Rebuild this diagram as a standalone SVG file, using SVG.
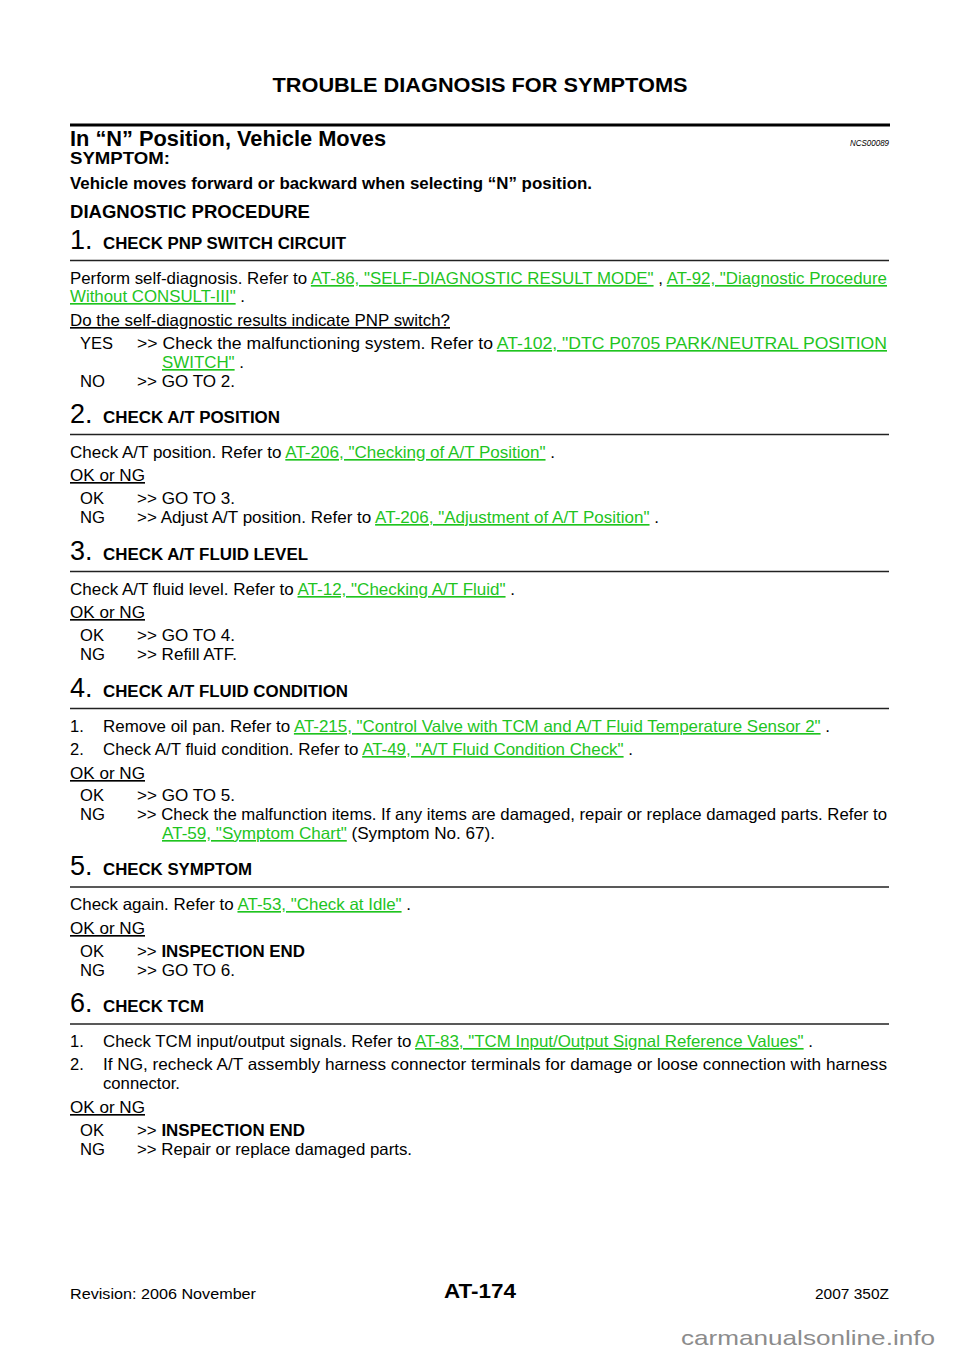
<svg xmlns="http://www.w3.org/2000/svg" width="960" height="1358" viewBox="0 0 960 1358">
<style>
text{font-family:"Liberation Sans",Arial,sans-serif;fill:#000}
.b{font-weight:bold}
.t{font-size:16.5px}
.n{font-size:27px}
.h{font-size:16px;font-weight:bold}
.l{fill:#1fc41f;text-decoration:underline}
.u{text-decoration:underline}
.rule{stroke:#222;stroke-width:1.3}
</style>
<rect width="960" height="1358" fill="#fff"/>
<g id="header">
<text x="480" y="92" class="b" font-size="21" text-anchor="middle" textLength="415" lengthAdjust="spacingAndGlyphs">TROUBLE DIAGNOSIS FOR SYMPTOMS</text>
<rect x="70" y="123.5" width="820" height="3" fill="#000"/>
<text x="70" y="146" class="b" font-size="22" textLength="316" lengthAdjust="spacingAndGlyphs">In “N” Position, Vehicle Moves</text>
<text x="889" y="146" font-size="9" font-style="italic" text-anchor="end" textLength="39" lengthAdjust="spacingAndGlyphs">NCS00089</text>
<text x="70" y="164" class="b" font-size="16.5" textLength="100" lengthAdjust="spacingAndGlyphs">SYMPTOM:</text>
<text x="70" y="189" class="b" font-size="16.5" textLength="522" lengthAdjust="spacingAndGlyphs">Vehicle moves forward or backward when selecting “N” position.</text>
<text x="70" y="218" class="b" font-size="18.5" textLength="240" lengthAdjust="spacingAndGlyphs">DIAGNOSTIC PROCEDURE</text>
</g>
<g id="step1">
<text x="70" y="249" class="n">1.</text>
<text x="103" y="249" class="h" textLength="243" lengthAdjust="spacingAndGlyphs">CHECK PNP SWITCH CIRCUIT</text>
<line x1="70" y1="260.5" x2="889" y2="260.5" class="rule"/>
<text x="70" y="284" class="t" textLength="817" lengthAdjust="spacingAndGlyphs">Perform self-diagnosis. Refer to <tspan class="l">AT-86, "SELF-DIAGNOSTIC RESULT MODE"</tspan> , <tspan class="l">AT-92, "Diagnostic Procedure</tspan></text>
<text x="70" y="302" class="t" textLength="175" lengthAdjust="spacingAndGlyphs"><tspan class="l">Without CONSULT-III"</tspan> .</text>
<text x="70" y="326" class="t u" textLength="380" lengthAdjust="spacingAndGlyphs">Do the self-diagnostic results indicate PNP switch?</text>
<text x="80" y="349" class="t" textLength="33" lengthAdjust="spacingAndGlyphs">YES</text>
<text x="137" y="349" class="t" textLength="750" lengthAdjust="spacingAndGlyphs">&gt;&gt; Check the malfunctioning system. Refer to <tspan class="l">AT-102, "DTC P0705 PARK/NEUTRAL POSITION</tspan></text>
<text x="162" y="368" class="t" textLength="82" lengthAdjust="spacingAndGlyphs"><tspan class="l">SWITCH"</tspan> .</text>
<text x="80" y="387" class="t" textLength="25" lengthAdjust="spacingAndGlyphs">NO</text>
<text x="137" y="387" class="t" textLength="98" lengthAdjust="spacingAndGlyphs">&gt;&gt; GO TO 2.</text>
</g>
<g id="step2">
<text x="70" y="423" class="n">2.</text>
<text x="103" y="423" class="h" textLength="177" lengthAdjust="spacingAndGlyphs">CHECK A/T POSITION</text>
<line x1="70" y1="434.5" x2="889" y2="434.5" class="rule"/>
<text x="70" y="458" class="t" textLength="485" lengthAdjust="spacingAndGlyphs">Check A/T position. Refer to <tspan class="l">AT-206, "Checking of A/T Position"</tspan> .</text>
<text x="70" y="481" class="t u" textLength="75" lengthAdjust="spacingAndGlyphs">OK or NG</text>
<text x="80" y="504" class="t" textLength="24" lengthAdjust="spacingAndGlyphs">OK</text>
<text x="137" y="504" class="t" textLength="98" lengthAdjust="spacingAndGlyphs">&gt;&gt; GO TO 3.</text>
<text x="80" y="523" class="t" textLength="25" lengthAdjust="spacingAndGlyphs">NG</text>
<text x="137" y="523" class="t" textLength="522" lengthAdjust="spacingAndGlyphs">&gt;&gt; Adjust A/T position. Refer to <tspan class="l">AT-206, "Adjustment of A/T Position"</tspan> .</text>
</g>
<g id="step3">
<text x="70" y="560" class="n">3.</text>
<text x="103" y="560" class="h" textLength="205" lengthAdjust="spacingAndGlyphs">CHECK A/T FLUID LEVEL</text>
<line x1="70" y1="571.5" x2="889" y2="571.5" class="rule"/>
<text x="70" y="595" class="t" textLength="445" lengthAdjust="spacingAndGlyphs">Check A/T fluid level. Refer to <tspan class="l">AT-12, "Checking A/T Fluid"</tspan> .</text>
<text x="70" y="618" class="t u" textLength="75" lengthAdjust="spacingAndGlyphs">OK or NG</text>
<text x="80" y="641" class="t" textLength="24" lengthAdjust="spacingAndGlyphs">OK</text>
<text x="137" y="641" class="t" textLength="98" lengthAdjust="spacingAndGlyphs">&gt;&gt; GO TO 4.</text>
<text x="80" y="660" class="t" textLength="25" lengthAdjust="spacingAndGlyphs">NG</text>
<text x="137" y="660" class="t" textLength="100" lengthAdjust="spacingAndGlyphs">&gt;&gt; Refill ATF.</text>
</g>
<g id="step4">
<text x="70" y="697" class="n">4.</text>
<text x="103" y="697" class="h" textLength="245" lengthAdjust="spacingAndGlyphs">CHECK A/T FLUID CONDITION</text>
<line x1="70" y1="708.5" x2="889" y2="708.5" class="rule"/>
<text x="70" y="732" class="t">1.</text>
<text x="103" y="732" class="t" textLength="727" lengthAdjust="spacingAndGlyphs">Remove oil pan. Refer to <tspan class="l">AT-215, "Control Valve with TCM and A/T Fluid Temperature Sensor 2"</tspan> .</text>
<text x="70" y="755" class="t">2.</text>
<text x="103" y="755" class="t" textLength="530" lengthAdjust="spacingAndGlyphs">Check A/T fluid condition. Refer to <tspan class="l">AT-49, "A/T Fluid Condition Check"</tspan> .</text>
<text x="70" y="779" class="t u" textLength="75" lengthAdjust="spacingAndGlyphs">OK or NG</text>
<text x="80" y="801" class="t" textLength="24" lengthAdjust="spacingAndGlyphs">OK</text>
<text x="137" y="801" class="t" textLength="98" lengthAdjust="spacingAndGlyphs">&gt;&gt; GO TO 5.</text>
<text x="80" y="820" class="t" textLength="25" lengthAdjust="spacingAndGlyphs">NG</text>
<text x="137" y="820" class="t" textLength="750" lengthAdjust="spacingAndGlyphs">&gt;&gt; Check the malfunction items. If any items are damaged, repair or replace damaged parts. Refer to</text>
<text x="162" y="839" class="t" textLength="333" lengthAdjust="spacingAndGlyphs"><tspan class="l">AT-59, "Symptom Chart"</tspan>  (Symptom No. 67).</text>
</g>
<g id="step5">
<text x="70" y="875" class="n">5.</text>
<text x="103" y="875" class="h" textLength="149" lengthAdjust="spacingAndGlyphs">CHECK SYMPTOM</text>
<line x1="70" y1="887" x2="889" y2="887" class="rule"/>
<text x="70" y="910" class="t" textLength="341" lengthAdjust="spacingAndGlyphs">Check again. Refer to <tspan class="l">AT-53, "Check at Idle"</tspan> .</text>
<text x="70" y="934" class="t u" textLength="75" lengthAdjust="spacingAndGlyphs">OK or NG</text>
<text x="80" y="957" class="t" textLength="24" lengthAdjust="spacingAndGlyphs">OK</text>
<text x="137" y="957" class="t" textLength="168" lengthAdjust="spacingAndGlyphs">&gt;&gt; <tspan class="b">INSPECTION END</tspan></text>
<text x="80" y="976" class="t" textLength="25" lengthAdjust="spacingAndGlyphs">NG</text>
<text x="137" y="976" class="t" textLength="98" lengthAdjust="spacingAndGlyphs">&gt;&gt; GO TO 6.</text>
</g>
<g id="step6">
<text x="70" y="1012" class="n">6.</text>
<text x="103" y="1012" class="h" textLength="101" lengthAdjust="spacingAndGlyphs">CHECK TCM</text>
<line x1="70" y1="1024" x2="889" y2="1024" class="rule"/>
<text x="70" y="1047" class="t">1.</text>
<text x="103" y="1047" class="t" textLength="710" lengthAdjust="spacingAndGlyphs">Check TCM input/output signals. Refer to <tspan class="l">AT-83, "TCM Input/Output Signal Reference Values"</tspan> .</text>
<text x="70" y="1070" class="t">2.</text>
<text x="103" y="1070" class="t" textLength="784" lengthAdjust="spacingAndGlyphs">If NG, recheck A/T assembly harness connector terminals for damage or loose connection with harness</text>
<text x="103" y="1089" class="t" textLength="77" lengthAdjust="spacingAndGlyphs">connector.</text>
<text x="70" y="1113" class="t u" textLength="75" lengthAdjust="spacingAndGlyphs">OK or NG</text>
<text x="80" y="1136" class="t" textLength="24" lengthAdjust="spacingAndGlyphs">OK</text>
<text x="137" y="1136" class="t" textLength="168" lengthAdjust="spacingAndGlyphs">&gt;&gt; <tspan class="b">INSPECTION END</tspan></text>
<text x="80" y="1155" class="t" textLength="25" lengthAdjust="spacingAndGlyphs">NG</text>
<text x="137" y="1155" class="t" textLength="275" lengthAdjust="spacingAndGlyphs">&gt;&gt; Repair or replace damaged parts.</text>
</g>
<g id="footer">
<text x="70" y="1299" font-size="15.5" textLength="186" lengthAdjust="spacingAndGlyphs">Revision: 2006 November</text>
<text x="480" y="1298" class="b" font-size="21" text-anchor="middle" textLength="72" lengthAdjust="spacingAndGlyphs">AT-174</text>
<text x="889" y="1299" font-size="15.5" text-anchor="end" textLength="74" lengthAdjust="spacingAndGlyphs">2007 350Z</text>
<text x="681" y="1345" font-size="21" style="fill:#8c8c8c" textLength="254" lengthAdjust="spacingAndGlyphs">carmanualsonline.info</text>
</g>
</svg>
